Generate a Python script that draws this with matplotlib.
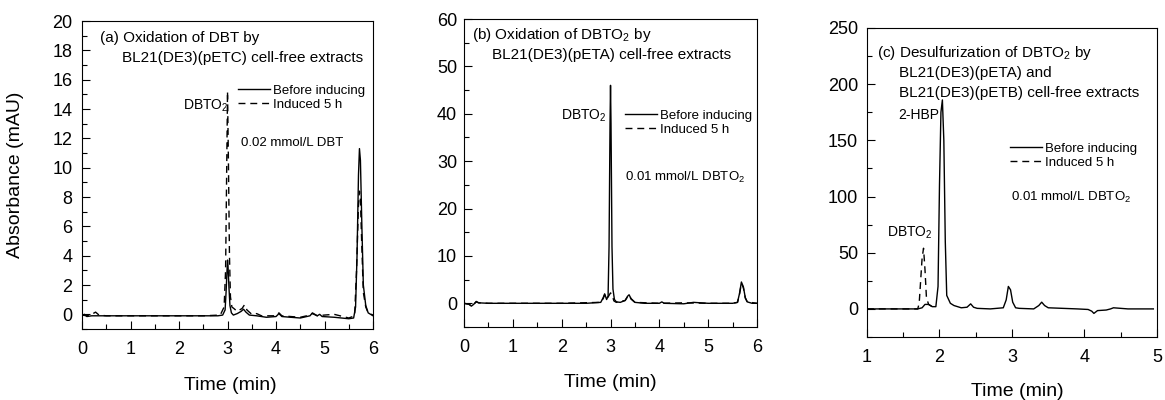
import matplotlib
matplotlib.use("Agg")
import matplotlib.pyplot as plt
from matplotlib.ticker import MultipleLocator

plt.rcParams["font.family"] = ["Liberation Sans", "DejaVu Sans"]
plt.rcParams["mathtext.fontset"] = "custom"
plt.rcParams["mathtext.rm"] = "Liberation Sans"
plt.rcParams["mathtext.default"] = "regular"

# ---- (a) oxidation of DBT ----
a_t_before = [0, 0.05, 0.1, 0.2, 0.5, 1.0, 1.5, 2.0, 2.5, 2.8, 2.9, 2.95, 2.97, 2.99, 3.0,
              3.01, 3.03, 3.05, 3.08, 3.12, 3.2, 3.28, 3.33, 3.38, 3.45, 3.6, 3.8, 4.0,
              4.06, 4.12, 4.3, 4.5, 4.7, 4.75, 4.85, 4.9, 4.95, 5.2, 5.5, 5.6, 5.64, 5.67,
              5.7, 5.72, 5.74, 5.77, 5.8, 5.85, 5.9, 6.0]
a_y_before = [-0.1, 0.0, -0.15, -0.1, -0.1, -0.1, -0.1, -0.1, -0.1, -0.1, -0.05, 0.3, 1.5,
              3.0, 3.7, 3.3, 1.8, 0.6, 0.1, -0.05, 0.05, 0.2, 0.35, 0.15, -0.05, -0.1,
              -0.2, -0.15, 0.05, -0.15, -0.2, -0.25, -0.1, 0.1, -0.1, 0.0, -0.15, -0.2,
              -0.3, -0.25, 0.5, 4.0, 9.5, 11.3, 10.5, 6.0, 2.0, 0.6, 0.1, -0.1]
a_t_induced = [0, 0.1, 0.2, 0.28, 0.35, 0.5, 1.0, 1.5, 2.0, 2.5, 2.85, 2.93, 2.96, 2.98,
               3.0, 3.02, 3.04, 3.06, 3.09, 3.13, 3.2, 3.3, 3.35, 3.4, 3.5, 3.6, 3.7, 4.0,
               4.06, 4.12, 4.3, 4.5, 4.7, 4.75, 4.85, 5.0, 5.2, 5.5, 5.62, 5.66, 5.7,
               5.72, 5.74, 5.77, 5.8, 5.85, 5.9, 6.0]
a_y_induced = [-0.05, -0.1, 0.0, 0.15, -0.05, -0.1, -0.1, -0.1, -0.1, -0.1, -0.05, 0.5,
               3.0, 9.0, 15.2, 10.0, 4.0, 1.2, 0.5, 0.4, 0.2, 0.4, 0.65, 0.3, 0.0, 0.05,
               -0.1, -0.1, 0.1, -0.1, -0.15, -0.2, -0.05, 0.05, -0.1, -0.05, 0.0, -0.25,
               -0.1, 3.0, 7.5, 8.4, 7.8, 4.5, 1.5, 0.5, 0.1, -0.05]

# ---- (b) oxidation of DBTO2 ----
b_t_before = [0, 0.1, 0.15, 0.2, 0.25, 0.3, 0.5, 1.0, 1.5, 2.0, 2.5, 2.8, 2.85, 2.88,
              2.92, 2.95, 2.97, 2.99, 3.0, 3.01, 3.03, 3.05, 3.08, 3.12, 3.2, 3.3, 3.35,
              3.38, 3.42, 3.5, 3.7, 4.0, 4.05, 4.1, 4.5, 4.7, 5.0, 5.5, 5.6, 5.64, 5.68,
              5.72, 5.76, 5.8, 5.9, 6.0]
b_y_before = [0, -0.2, -0.6, -0.2, 0.4, 0.1, 0, 0, 0, 0, 0, 0.2, 1.2, 2.0, 0.8, 1.5, 12,
              38, 46, 38, 12, 3, 0.8, 0.3, 0.2, 0.6, 1.5, 1.8, 1.0, 0.2, 0, 0, 0.3, 0,
              -0.1, 0.2, 0, 0, 0.2, 2.0, 4.5, 3.5, 1.2, 0.3, 0, 0]
b_t_induced = [0, 0.1, 0.15, 0.2, 0.25, 0.3, 0.5, 1.0, 2.0, 2.8, 2.85, 2.88, 2.92, 2.96,
               3.0, 3.03, 3.07, 3.12, 3.3, 3.35, 3.38, 3.42, 3.5, 4.0, 4.5, 5.0, 5.5,
               5.6, 5.64, 5.68, 5.72, 5.76, 5.8, 6.0]
b_y_induced = [0, -0.2, -0.5, -0.2, 0.3, 0.1, 0, 0, 0, 0.2, 1.0, 1.8, 0.9, 1.5, 2.2, 1.8,
               0.5, 0.2, 0.6, 1.4, 1.7, 0.9, 0.2, 0, 0.1, 0, 0, 0.2, 1.8, 4.2, 3.3, 1.1,
               0.3, 0]

# ---- (c) desulfurization of DBTO2 ----
c_t_before = [1.0, 1.5, 1.7, 1.76, 1.8, 1.85, 1.9, 1.95, 1.98, 2.0, 2.02, 2.04, 2.06,
              2.08, 2.1, 2.15, 2.2, 2.3, 2.38, 2.43, 2.47, 2.52, 2.7, 2.88, 2.92, 2.95,
              2.98, 3.01, 3.05, 3.1, 3.3, 3.37, 3.41, 3.45, 3.5, 3.7, 3.9, 4.05, 4.1,
              4.13, 4.18, 4.3, 4.36, 4.4, 4.6, 4.95]
c_y_before = [0, 0, 0, 1, 4, 4, 2, 2, 20, 110, 175, 186, 150, 60, 12, 5, 3, 1, 1.5, 4.5,
              1.5, 0.5, 0, 1, 8, 20, 17, 6, 1, 0.5, 0, 3, 6, 3, 1, 0.5, 0, -0.5, -2, -4,
              -1.5, -1, 0, 1, 0, 0]
# induced trace: DBTO2 peak, then it runs under the solid trace
c_t_induced = [1.0, 1.5, 1.7, 1.72, 1.74, 1.76, 1.78, 1.8, 1.82, 1.85, 1.9]
c_y_induced = [0, 0, 0, 5, 25, 45, 54, 35, 10, 4, 2]

legend_labels = ["Before inducing", "Induced 5 h"]

fig = plt.figure(figsize=(11.65, 4.0), dpi=100)
ax_a = fig.add_axes([0.0704, 0.1775, 0.2498, 0.77])
ax_b = fig.add_axes([0.3983, 0.1825, 0.2515, 0.77])
ax_c = fig.add_axes([0.7442, 0.1575, 0.2489, 0.7725])

panels = [
    (ax_a, a_t_before, a_y_before, a_t_induced, a_y_induced,
     (0, 6), (-1, 20), 0.5, 1, 7),
    (ax_b, b_t_before, b_y_before, b_t_induced, b_y_induced,
     (0, 6), (-5, 60), 0.5, 5, 5),
    (ax_c, c_t_before, c_y_before, c_t_induced, c_y_induced,
     (1, 5), (-25, 250), 0.5, 25, 6.5),
]

for ax, tb, yb, ti, yi, xl, yl, xmin, ymin, ypad in panels:
    ax.plot(tb, yb, "-", color="black", lw=1.0, label=legend_labels[0])
    ax.plot(ti, yi, color="black", lw=1.0, ls=(0, (5, 3.5)), label=legend_labels[1])
    ax.set_xlim(*xl)
    ax.set_ylim(*yl)
    ax.xaxis.set_major_locator(MultipleLocator(1))
    ax.xaxis.set_minor_locator(MultipleLocator(xmin))
    ax.yaxis.set_minor_locator(MultipleLocator(ymin))
    ax.tick_params(which="both", direction="in", top=False, right=False, width=0.8)
    ax.tick_params(which="major", length=6, labelsize=13)
    ax.tick_params(which="minor", length=3.5)
    ax.tick_params(axis="x", pad=8.5)
    ax.tick_params(axis="y", pad=ypad)
    for s in ax.spines.values():
        s.set_linewidth(0.8)
    ax.set_xlabel("Time (min)", fontsize=14)

ax_a.set_yticks(range(0, 21, 2))
ax_b.set_yticks(range(0, 61, 10))
ax_c.set_yticks(range(0, 251, 50))

ax_a.set_ylabel("Absorbance (mAU)", fontsize=14)
ax_a.yaxis.set_label_coords(-0.2, 0.5)
ax_a.xaxis.set_label_coords(0.509, -0.155)
ax_b.xaxis.set_label_coords(0.498, -0.152)
ax_c.xaxis.set_label_coords(0.52, -0.148)

tfs = 11
ax_a.text(0.062, 0.945, "(a) Oxidation of DBT by", transform=ax_a.transAxes,
          fontsize=tfs, va="center")
ax_a.text(0.137, 0.88, "BL21(DE3)(pETC) cell-free extracts", transform=ax_a.transAxes,
          fontsize=tfs, va="center")
ax_a.text(0.505, 0.724, "DBTO$_2$", transform=ax_a.transAxes, fontsize=10,
          ha="right", va="center")
ax_a.text(0.546, 0.604, "0.02 mmol/L DBT", transform=ax_a.transAxes, fontsize=9.5,
          va="center")

ax_b.text(0.027, 0.948, "(b) Oxidation of DBTO$_2$ by", transform=ax_b.transAxes,
          fontsize=tfs, va="center")
ax_b.text(0.096, 0.883, "BL21(DE3)(pETA) cell-free extracts", transform=ax_b.transAxes,
          fontsize=tfs, va="center")
ax_b.text(0.488, 0.685, "DBTO$_2$", transform=ax_b.transAxes, fontsize=10,
          ha="right", va="center")
ax_b.text(0.55, 0.484, "0.01 mmol/L DBTO$_2$", transform=ax_b.transAxes, fontsize=9.5,
          va="center")

ax_c.text(0.034, 0.919, "(c) Desulfurization of DBTO$_2$ by", transform=ax_c.transAxes,
          fontsize=tfs, va="center")
ax_c.text(0.11, 0.854, "BL21(DE3)(pETA) and", transform=ax_c.transAxes,
          fontsize=tfs, va="center")
ax_c.text(0.11, 0.79, "BL21(DE3)(pETB) cell-free extracts", transform=ax_c.transAxes,
          fontsize=tfs, va="center")
ax_c.text(0.248, 0.718, "2-HBP", transform=ax_c.transAxes, fontsize=10,
          ha="right", va="center")
ax_c.text(0.225, 0.337, "DBTO$_2$", transform=ax_c.transAxes, fontsize=10,
          ha="right", va="center")
ax_c.text(0.497, 0.45, "0.01 mmol/L DBTO$_2$", transform=ax_c.transAxes, fontsize=9.5,
          va="center")

for ax, anchor in [(ax_a, (0.536, 0.794)), (ax_b, (0.55, 0.706)), (ax_c, (0.493, 0.629))]:
    ax.legend(loc="upper left", bbox_to_anchor=anchor, frameon=False, fontsize=9.5,
              borderpad=0, borderaxespad=0, handlelength=2.42, handletextpad=0.25,
              labelspacing=0.15)

fig.savefig("out.png", dpi=100)
